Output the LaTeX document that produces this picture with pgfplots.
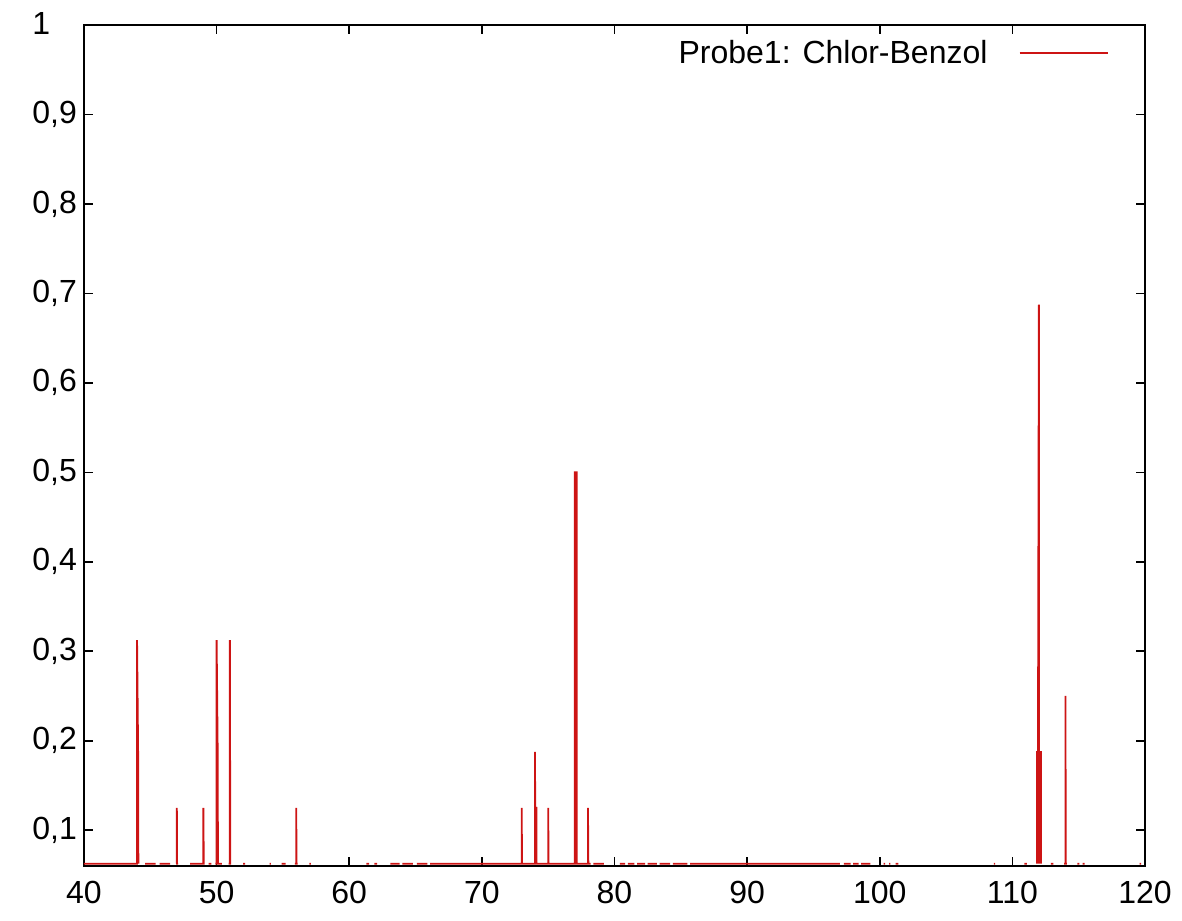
\documentclass[border=0pt]{standalone}
\usepackage{pgfplots}
\pgfplotsset{compat=1.18}
\usepackage{pgfplotstable}
\usepackage{fontspec}
\setmainfont{Liberation Sans}
\definecolor{gpred}{RGB}{205,20,20}

\pgfplotstableread{
x y
40 0.0625
44 0.0625
44 0.3125
44.08 0.1875
44.1 0.0625
nan nan
44.6 0.0625
45.4 0.0625
nan nan
45.7 0.0625
46.5 0.0625
nan nan
46.95 0.0625
47 0.0625
47 0.125
47.02 0.0625
47.1 0.0625
nan nan
48 0.0625
49 0.0625
49 0.125
49.03 0.0625
49.1 0.0625
nan nan
49.4 0.0625
49.6 0.0625
nan nan
49.9 0.0625
50 0.0625
50 0.3125
50.08 0.1875
50.1 0.0625
50.4 0.0625
nan nan
50.9 0.0625
51 0.0625
51 0.3125
51.03 0.0625
51.1 0.0625
nan nan
52 0.0625
52.15 0.0625
nan nan
54 0.0625
54.1 0.0625
nan nan
54.9 0.0625
55.2 0.0625
nan nan
55.9 0.0625
56 0.0625
56 0.125
56.03 0.0625
56.1 0.0625
nan nan
57 0.0625
57.1 0.0625
nan nan
61.3 0.0625
61.5 0.0625
nan nan
61.9 0.0625
62.1 0.0625
nan nan
63.1 0.0625
63.8 0.0625
nan nan
64 0.0625
64.8 0.0625
nan nan
65.1 0.0625
65.9 0.0625
nan nan
66.1 0.0625
73 0.0625
73 0.125
73.03 0.0625
74 0.0625
74 0.1875
74.05 0.0625
74.05 0.125
74.12 0.125
74.12 0.0625
75 0.0625
75 0.125
75.03 0.0625
77 0.0625
77 0.5
77.15 0.5
77.15 0.0625
78 0.0625
78 0.125
78.03 0.0625
78.2 0.0625
nan nan
77.075 0.0625
77.075 0.5
nan nan
78.4 0.0625
79.2 0.0625
nan nan
80.4 0.0625
80.8 0.0625
nan nan
81 0.0625
81.5 0.0625
nan nan
81.7 0.0625
82.3 0.0625
nan nan
82.5 0.0625
83.2 0.0625
nan nan
83.4 0.0625
84.2 0.0625
nan nan
84.4 0.0625
85.5 0.0625
nan nan
85.7 0.0625
97 0.0625
nan nan
97.3 0.0625
97.8 0.0625
nan nan
98 0.0625
98.4 0.0625
nan nan
98.6 0.0625
99.3 0.0625
nan nan
100.3 0.0625
100.4 0.0625
nan nan
100.7 0.0625
100.8 0.0625
nan nan
101.2 0.0625
101.4 0.0625
nan nan
108.6 0.0625
108.7 0.0625
nan nan
110.9 0.0625
111.1 0.0625
nan nan
111.85 0.0625
111.85 0.1875
111.93 0.1875
112 0.6875
112 0.0625
nan nan
112.07 0.0625
112.07 0.1875
112.15 0.1875
112.15 0.0625
nan nan
112.9 0.0625
113.1 0.0625
nan nan
113.9 0.0625
114 0.0625
114 0.25
114.03 0.0625
114.1 0.0625
nan nan
114.9 0.0625
115.05 0.0625
nan nan
115.3 0.0625
115.45 0.0625
nan nan
119.6 0.0625
119.7 0.0625
}\spectrum

\begin{document}
\begin{tikzpicture}
\begin{axis}[
  name=ax,
  scale only axis, width=530.5pt, height=420.5pt,
  xmin=40, xmax=120, ymin=0.06, ymax=1,
  xtick={40,50,60,70,80,90,100,110,120},
  ytick={0.1,0.2,0.3,0.4,0.5,0.6,0.7,0.8,0.9,1},
  yticklabels={0{,}1,0{,}2,0{,}3,0{,}4,0{,}5,0{,}6,0{,}7,0{,}8,0{,}9,1\phantom{{,}0}},
  minor tick num=0,
  xtick pos=both, ytick pos=both,
  tick align=inside,
  major tick length=4.5pt,
  tick style={black, line width=0.8pt},
  axis line style={black, line width=1pt},
  /pgf/number format/assume math mode=true,
  ticklabel style={font=\fontsize{16}{19}\selectfont},
  xticklabel style={/pgf/number format/.cd, fixed, precision=0, /tikz/.cd, yshift=-4pt},
  unbounded coords=jump,
  legend plot pos=right,
  legend cell align=right,
  legend style={draw=none, fill=none, at={(axis description cs:0.966,0.987)}, anchor=north east,
    font=\fontsize{16}{19}\selectfont, inner sep=0pt},
  legend image code/.code={\path[draw=none, fill=none] (0pt,-2pt) rectangle (58pt,2pt);\draw[draw=gpred, line width=1pt] (14pt,0pt) -- (58pt,0pt);},
]
\addplot[color=gpred, line width=0.9pt, line join=miter] table[x=x, y=y] {\spectrum};
\addlegendentry{Probe1: Chlor-Benzol}
\coordinate (sw) at (rel axis cs:0,0);
\coordinate (ne) at (rel axis cs:1,1);
\end{axis}
\pgfresetboundingbox
\path ([shift={(-42pt,-27.5pt)}]sw) rectangle ([shift={(18.5pt,12.5pt)}]ne);
\end{tikzpicture}
\end{document}
